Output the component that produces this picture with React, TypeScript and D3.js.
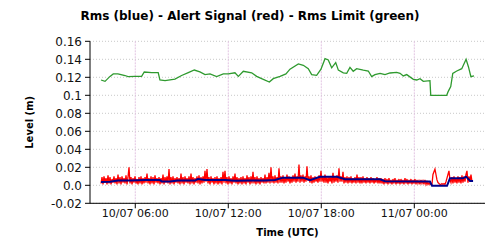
import React from "react";
import * as d3 from "d3";

const TITLE = "Rms (blue) - Alert Signal (red) - Rms Limit (green)";
const X_TITLE = "Time (UTC)";
const Y_TITLE = "Level (m)";

// hours since 10/07 00:00 UTC
const DAY0 = Date.UTC(2020, 6, 10, 0, 0);
const X_DOMAIN_HOURS = [3.08, 28.56];
const X_TICK_HOURS = [6, 12, 18, 24];
const Y_TICKS = [0.16, 0.14, 0.12, 0.1, 0.08, 0.06, 0.04, 0.02, 0.0, -0.02];
const Y_TICK_LABELS = ["0.16", "0.14", "0.12", "0.1", "0.08", "0.06", "0.04", "0.02", "0.0", "-0.02"];

const greenHours = [
  3.79, 4.05, 4.37, 4.58, 4.88, 5.34, 5.53, 5.98, 6.41, 6.58, 7.06, 7.48, 7.59, 7.92, 8.56, 8.99, 9.42, 9.81,
  10.17, 10.5, 10.82, 11.25, 11.68, 12.0, 12.43, 12.65, 12.97, 13.51, 13.83, 14.15, 14.65, 14.9, 15.34, 15.72,
  15.98, 16.52, 16.84, 17.16, 17.38, 17.7, 17.98, 18.24, 18.45, 18.67, 18.93, 19.1, 19.42, 19.64, 19.85, 20.06,
  20.28, 20.71, 21.03, 21.25, 21.46, 21.79, 22.11, 22.43, 22.86, 23.08, 23.29, 23.51, 23.94, 24.16, 24.37,
  24.58, 25.01, 25.06, 26.09, 26.19, 26.35, 26.48, 26.74, 27.06, 27.34, 27.49, 27.65, 27.85,
];
const greenValues = [
  0.117, 0.1155, 0.121, 0.1237, 0.1237, 0.122, 0.1207, 0.121, 0.121, 0.1259, 0.1252, 0.1252, 0.117, 0.1163,
  0.118, 0.122, 0.1252, 0.1281, 0.126, 0.123, 0.1237, 0.1207, 0.1237, 0.1237, 0.125, 0.121, 0.1267, 0.125,
  0.121, 0.1185, 0.1148, 0.1185, 0.121, 0.1237, 0.129, 0.1348, 0.1333, 0.1296, 0.123, 0.1222, 0.129, 0.1407,
  0.1393, 0.1305, 0.1363, 0.128, 0.125, 0.1244, 0.131, 0.1267, 0.1296, 0.128, 0.127, 0.1207, 0.123, 0.1244,
  0.123, 0.1248, 0.1255, 0.1244, 0.1215, 0.123, 0.1178, 0.117, 0.1185, 0.1155, 0.1163, 0.1, 0.1, 0.1044,
  0.1096, 0.1244, 0.127, 0.1296, 0.14, 0.1318, 0.1207, 0.1215,
];

const blueHours = [
  3.79, 4.37, 4.88, 5.66, 6.63, 7.59, 7.72, 8.24, 8.75, 9.85, 10.04, 10.49, 11.78, 12.43, 13.4, 14.36, 15.01,
  15.53, 16.82, 17.27, 17.91, 19.01, 19.53, 21.79, 22.11, 25.01, 25.14, 26.11, 26.3, 27.14, 27.34, 27.6, 27.79,
];
const blueValues = [
  0.0037, 0.004, 0.0052, 0.0052, 0.0058, 0.0058, 0.0042, 0.0042, 0.0052, 0.0052, 0.007, 0.006, 0.0058, 0.005,
  0.0052, 0.0052, 0.006, 0.0085, 0.0085, 0.0058, 0.0095, 0.0095, 0.0067, 0.0067, 0.0045, 0.0041, -0.0005,
  -0.0005, 0.0078, 0.0078, 0.0096, 0.0048, 0.0048,
];

// red: regular samples
const RED_START_HOURS = 3.79;
const RED_STEP_HOURS = 0.0645;
const redValues = [
  0.002, 0.009, 0.001, 0.010, 0.003, 0.008, 0.001, 0.011, 0.002, 0.009, 0.001, 0.007, 0.003, 0.010, 0.002, 0.008, 0.001, 0.012, 0.002, 0.009,
  0.001, 0.010, 0.003, 0.008, 0.002, 0.011, 0.001, 0.009, 0.020, 0.002, 0.009, 0.001, 0.008, 0.003, 0.010, 0.002, 0.007, 0.001, 0.009, 0.002,
  0.010, 0.001, 0.008, 0.002, 0.009, 0.003, 0.013, 0.002, 0.008, 0.001, 0.010, 0.002, 0.009, 0.001, 0.011, 0.003, 0.008, 0.002, 0.009, 0.001,
  0.008, 0.002, 0.012, 0.001, 0.009, 0.003, 0.010, 0.002, 0.018, 0.001, 0.009, 0.002, 0.010, 0.001, 0.008, 0.003, 0.009, 0.002, 0.008, 0.001,
  0.013, 0.002, 0.009, 0.001, 0.010, 0.003, 0.008, 0.002, 0.010, 0.001, 0.013, 0.002, 0.009, 0.001, 0.008, 0.003, 0.010, 0.002, 0.011, 0.001,
  0.009, 0.002, 0.010, 0.003, 0.016, 0.004, 0.018, 0.002, 0.009, 0.001, 0.010, 0.003, 0.008, 0.001, 0.009, 0.002, 0.010, 0.001, 0.008, 0.002,
  0.009, 0.001, 0.015, 0.003, 0.016, 0.002, 0.009, 0.001, 0.010, 0.002, 0.008, 0.001, 0.010, 0.003, 0.013, 0.002, 0.009, 0.001, 0.008, 0.002,
  0.009, 0.001, 0.010, 0.002, 0.008, 0.001, 0.011, 0.003, 0.009, 0.001, 0.010, 0.002, 0.015, 0.002, 0.009, 0.001, 0.010, 0.002, 0.008, 0.001,
  0.009, 0.003, 0.008, 0.002, 0.012, 0.002, 0.009, 0.003, 0.014, 0.002, 0.020, 0.003, 0.010, 0.002, 0.011, 0.003, 0.009, 0.002, 0.019, 0.003,
  0.010, 0.003, 0.011, 0.002, 0.009, 0.003, 0.012, 0.004, 0.010, 0.002, 0.009, 0.003, 0.011, 0.004, 0.013, 0.003, 0.010, 0.004, 0.023, 0.003,
  0.011, 0.004, 0.012, 0.003, 0.010, 0.004, 0.021, 0.005, 0.010, 0.003, 0.011, 0.002, 0.009, 0.003, 0.010, 0.004, 0.008, 0.003, 0.011, 0.004,
  0.016, 0.004, 0.010, 0.003, 0.012, 0.003, 0.009, 0.002, 0.010, 0.004, 0.009, 0.002, 0.014, 0.003, 0.010, 0.004, 0.011, 0.003, 0.019, 0.004,
  0.010, 0.004, 0.015, 0.002, 0.009, 0.003, 0.010, 0.002, 0.009, 0.003, 0.010, 0.002, 0.008, 0.003, 0.009, 0.002, 0.012, 0.003, 0.009, 0.002,
  0.009, 0.002, 0.010, 0.003, 0.008, 0.002, 0.009, 0.003, 0.008, 0.002, 0.009, 0.003, 0.008, 0.002, 0.007, 0.003, 0.009, 0.002, 0.008, 0.002,
  0.008, 0.002, 0.007, 0.001, 0.008, 0.002, 0.007, 0.001, 0.008, 0.002, 0.006, 0.001, 0.007, 0.002, 0.008, 0.001, 0.006, 0.002, 0.007, 0.001,
  0.007, 0.002, 0.006, 0.001, 0.008, 0.002, 0.007, 0.001, 0.006, 0.002, 0.007, 0.001, 0.006, 0.002, 0.007, 0.001, 0.006, 0.002, 0.005, 0.001,
  0.006, 0.002, 0.005, 0.001, 0.006, 0.001, 0.004, 0.001, 0.003, 0.001, 0.002, 0.001, 0.012, 0.015, 0.018, 0.012, 0.006, 0.003, 0.002, 0.001,
  0.001, 0.002, 0.001, 0.002, 0.001, 0.004, 0.008, 0.012, 0.016, 0.006, 0.003, 0.009, 0.002, 0.010, 0.003, 0.008, 0.002, 0.010, 0.003, 0.009,
  0.002, 0.011, 0.003, 0.010, 0.004, 0.012, 0.016, 0.003, 0.010, 0.004, 0.012, 0.004,
];

const hToDate = (h: number) => new Date(DAY0 + h * 3600 * 1000);
const fmt = d3.utcFormat("%d/%m %H:%M");

export default function App() {
  const W = 500;
  const H = 250;
  const left = 90;
  const right = 485;
  const top = 41.3;
  const bottom = 203.3;

  const x = d3.scaleUtc().domain(X_DOMAIN_HOURS.map(hToDate)).range([left, right]);
  const y = d3.scaleLinear().domain([-0.02, 0.16]).range([bottom, top]);

  const line = d3
    .line<[number, number]>()
    .x((d) => x(hToDate(d[0])))
    .y((d) => y(d[1]));

  const green = greenHours.map((h, i) => [h, greenValues[i]] as [number, number]);
  const blue = blueHours.map((h, i) => [h, blueValues[i]] as [number, number]);
  const red = redValues.map((v, i) => [RED_START_HOURS + i * RED_STEP_HOURS, v] as [number, number]);

  const font = "'DejaVu Sans', Verdana, sans-serif";

  return (
    <svg width={W} height={H} style={{ position: "absolute", left: 0, top: 0 }} fontFamily={font}>
      <rect width={W} height={H} fill="#fff" />
      <text x={250} y={19.5} textAnchor="middle" fontSize={12} fontWeight="bold" fill="#000">
        {TITLE}
      </text>
      {/* horizontal grid */}
      {Y_TICKS.map((t) => (
        <line key={"hg" + t} x1={left} x2={right} y1={y(t)} y2={y(t)} stroke="#c8c8c8" strokeDasharray="1,2" />
      ))}
      {/* vertical grid */}
      {X_TICK_HOURS.map((h) => (
        <line
          key={"vg" + h}
          x1={x(hToDate(h))}
          x2={x(hToDate(h))}
          y1={top}
          y2={bottom}
          stroke="#e2c4e2"
          strokeDasharray="2,1"
        />
      ))}
      <path d={line(green) || ""} fill="none" stroke="#2f9a2f" strokeWidth={1.3} />
      <path d={line(red) || ""} fill="none" stroke="#ff0000" strokeWidth={1.3} />
      <path d={line(blue) || ""} fill="none" stroke="#00008b" strokeWidth={2} />
      {/* axes */}
      <line x1={left} x2={left} y1={top} y2={bottom} stroke="#000" />
      <line x1={left} x2={right} y1={bottom} y2={bottom} stroke="#000" />
      {Y_TICKS.map((t, i) => (
        <g key={"yt" + t}>
          <line x1={left - 5} x2={left} y1={y(t)} y2={y(t)} stroke="#000" />
          <text x={left - 8} y={y(t)} dy="0.35em" textAnchor="end" fontSize={12} fill="#111">
            {Y_TICK_LABELS[i]}
          </text>
        </g>
      ))}
      {X_TICK_HOURS.map((h) => (
        <g key={"xt" + h}>
          <line x1={x(hToDate(h))} x2={x(hToDate(h))} y1={bottom} y2={bottom + 5} stroke="#000" />
          <text x={x(hToDate(h))} y={217} textAnchor="middle" fontSize={11} fill="#111">
            {fmt(hToDate(h))}
          </text>
        </g>
      ))}
      <text x={(left + right) / 2} y={235.5} textAnchor="middle" fontSize={10} fontWeight="bold" fill="#000">
        {X_TITLE}
      </text>
      <text
        transform={`translate(32.5, ${(top + bottom) / 2}) rotate(-90)`}
        textAnchor="middle"
        fontSize={10}
        fontWeight="bold"
        fill="#000"
      >
        {Y_TITLE}
      </text>
    </svg>
  );
}
